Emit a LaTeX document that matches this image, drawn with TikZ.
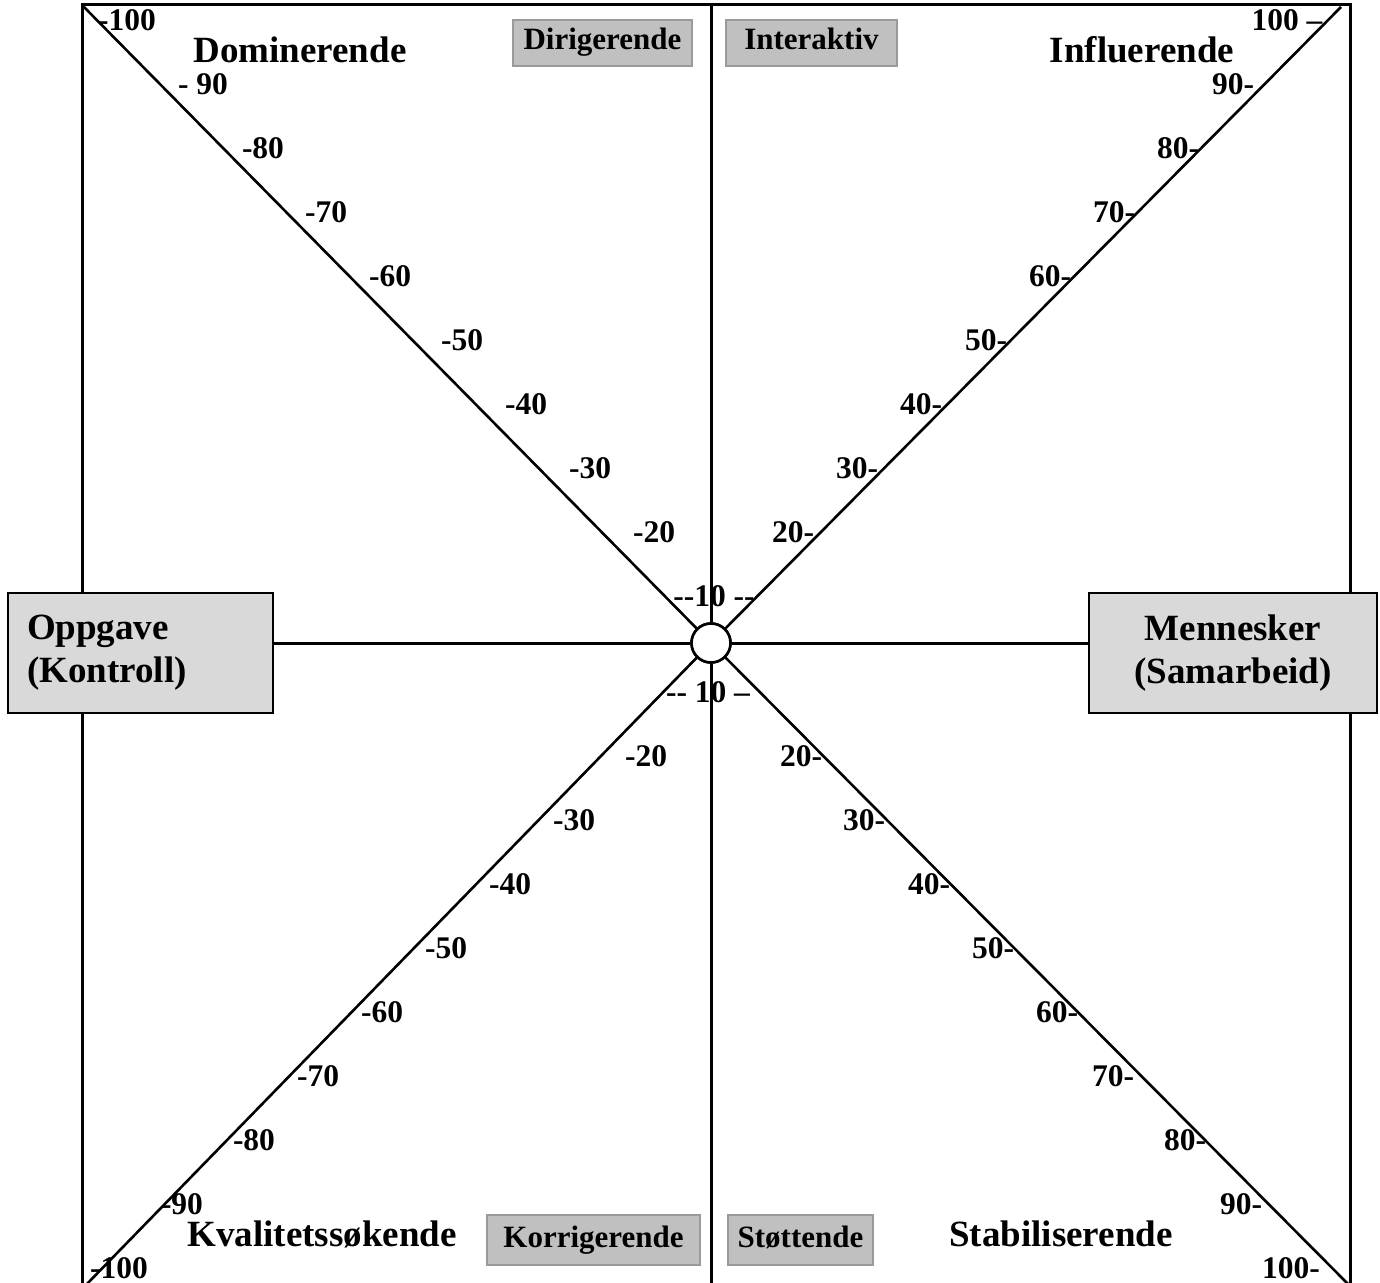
\documentclass[tikz,border=0pt]{standalone}
\usepackage{fontspec}
\setmainfont{Liberation Serif}
\definecolor{boxgray}{HTML}{D9D9D9}
\definecolor{smallgray}{HTML}{C0C0C0}
\definecolor{smallborder}{HTML}{9A9A9A}
\begin{document}
\begin{tikzpicture}[x=0.5pt,y=-0.5pt,
 frame/.style={line width=1.5pt},
 diag/.style={line width=1.3pt},
 lbl/.style={font=\fontsize{15.75}{18}\selectfont\bfseries, inner sep=0pt},
 ttl/.style={font=\fontsize{18.5}{21.5}\selectfont\bfseries, inner sep=0pt},
 bigbox/.style={draw=black, line width=1pt, fill=boxgray, minimum height=60pt, font=\fontsize{18.5}{21.5}\selectfont\bfseries},
 smallbox/.style={draw=smallborder, line width=1pt, fill=smallgray, inner sep=0pt, text height=11pt, text depth=4pt, font=\fontsize{15.5}{18}\selectfont\bfseries}
]
\clip (0,0) rectangle (1380,1283);
\fill[white] (0,0) rectangle (1380,1283);

% frame and axes coordinates
\coordinate (fbl) at (82,1295);
\coordinate (ftl) at (82,5);
\coordinate (ftr) at (1350,5);
\coordinate (fbr) at (1350,1295);
\coordinate (vt) at (711,5);
\coordinate (vb) at (711,1295);
\coordinate (dtl) at (82,5);
\coordinate (dtr) at (1341,7);
\coordinate (dbl) at (84,1287);
\coordinate (dbr) at (1351,1287);

\draw[frame] (fbl) -- (ftl) -- (ftr) -- (fbr);

% centre circle
\node[circle, draw=black, line width=1.3pt, fill=white, minimum size=19.5pt, inner sep=0pt] (c) at (711,643) {};

% big boxes
\node[bigbox, text width=113.5pt, inner xsep=9.5pt, align=left] (opp) at (140.5,653) {Oppgave\\(Kontroll)};
\node[bigbox, minimum width=144pt, align=center] (men) at (1233,653) {Mennesker\\(Samarbeid)};

% axes
\draw[frame] (vt) -- (c);
\draw[frame] (c) -- (vb);
\draw[frame] (opp.east |- c) -- (c);
\draw[frame] (c) -- (men.west |- c);
\draw[diag] (c) -- (dtl);
\draw[diag] (c) -- (dtr);
\draw[diag] (c) -- (dbl);
\draw[diag] (c) -- (dbr);
\node[circle, draw=black, line width=1.3pt, fill=white, minimum size=19.5pt, inner sep=0pt] at (c) {};

% small boxes
\node[smallbox, minimum width=89.5pt, minimum height=23pt] (dir) at (602.5,43) {Dirigerende};
\node[smallbox, minimum width=85.5pt, minimum height=23pt] (int) at (811.5,43) {Interaktiv};
\node[smallbox, minimum width=106.5pt, minimum height=25pt] (kor) at (593.5,1240) {Korrigerende};
\node[smallbox, minimum width=72.5pt, minimum height=25pt] (sto) at (800.5,1240) {Støttende};

% quadrant titles
\node[ttl] (dom) at (300,50) {Dominerende};
\node[ttl] (inf) at (1142,50) {Influerende};
\node[ttl] (kva) at (322,1234) {Kvalitetssøkende};
\node[ttl] (sta) at (1061,1234) {Stabiliserende};

% top-left scale
\node[lbl] (a100) at (127,20) {-100};
\node[lbl] (a90) at (203,84) {- 90};
\node[lbl] (a80) at (263,148) {-80};
\node[lbl] (a70) at (326,212) {-70};
\node[lbl] (a60) at (390,276) {-60};
\node[lbl] (a50) at (462,340) {-50};
\node[lbl] (a40) at (526,404) {-40};
\node[lbl] (a30) at (590,468) {-30};
\node[lbl] (a20) at (654,532) {-20};
\node[lbl] (a10) at (714,596) {-\kern0pt-10 -\kern0pt-};

% top-right scale
\node[lbl] (b100) at (1287,20) {100 –};
\node[lbl] (b90) at (1233,84) {90-};
\node[lbl] (b80) at (1178,148) {80-};
\node[lbl] (b70) at (1114,212) {70-};
\node[lbl] (b60) at (1050,276) {60-};
\node[lbl] (b50) at (986,340) {50-};
\node[lbl] (b40) at (921,404) {40-};
\node[lbl] (b30) at (857,468) {30-};
\node[lbl] (b20) at (793,532) {20-};

% bottom-left scale
\node[lbl] (c10) at (708,692) {-\kern0pt- 10 –};
\node[lbl] (c20) at (646,756) {-20};
\node[lbl] (c30) at (574,820) {-30};
\node[lbl] (c40) at (510,884) {-40};
\node[lbl] (c50) at (446,948) {-50};
\node[lbl] (c60) at (382,1012) {-60};
\node[lbl] (c70) at (318,1076) {-70};
\node[lbl] (c80) at (254,1140) {-80};
\node[lbl] (c90) at (182,1204) {-90};
\node[lbl] (c100) at (119,1268) {-100};

% bottom-right scale
\node[lbl] (d20) at (801,756) {20-};
\node[lbl] (d30) at (864,820) {30-};
\node[lbl] (d40) at (929,884) {40-};
\node[lbl] (d50) at (993,948) {50-};
\node[lbl] (d60) at (1057,1012) {60-};
\node[lbl] (d70) at (1113,1076) {70-};
\node[lbl] (d80) at (1185,1140) {80-};
\node[lbl] (d90) at (1241,1204) {90-};
\node[lbl] (d100) at (1291,1268) {100-};
\end{tikzpicture}
\end{document}
